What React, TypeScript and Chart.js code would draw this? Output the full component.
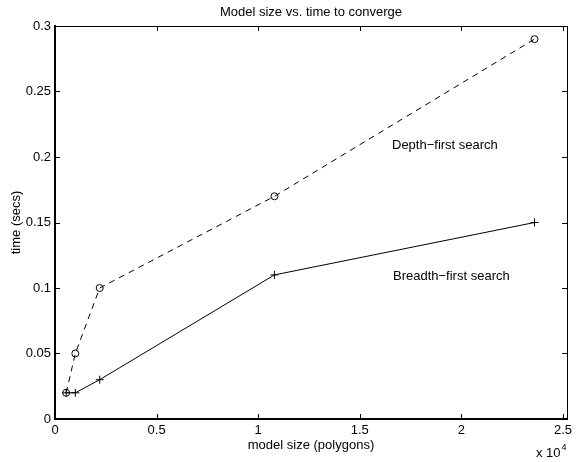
import React, { useEffect, useRef } from "react";
import { Chart, registerables } from "chart.js";

Chart.register(...registerables);

const modelSizes = [550, 1000, 2200, 10800, 23600];
const depthFirstTimes = [0.02, 0.05, 0.1, 0.17, 0.29];
const breadthFirstTimes = [0.02, 0.02, 0.03, 0.11, 0.15];
const xTickValues = [0, 5000, 10000, 15000, 20000, 25000];
const yTickValues = [0, 0.05, 0.1, 0.15, 0.2, 0.25, 0.3];
const titleText = "Model size vs. time to converge";
const xLabel = "model size (polygons)";
const yLabel = "time (secs)";
const depthLabel = "Depth\u2212first search";
const breadthLabel = "Breadth\u2212first search";

const FONT = "'Liberation Sans', Arial, Helvetica, sans-serif";
const W = 576;
const H = 462;
const PLOT = { left: 55, right: 567, top: 26, bottom: 419 };

const fmt = (v: number) => String(Number(v.toFixed(4)));

const framePlugin = {
  id: "frame",
  afterDatasetsDraw(chart: any) {
    const ctx: CanvasRenderingContext2D = chart.ctx;
    const xs = chart.scales.x;
    const ys = chart.scales.y;
    const L = PLOT.left;
    const R = PLOT.right;
    const T = PLOT.top;
    const B = PLOT.bottom;
    ctx.save();
    ctx.fillStyle = "rgb(0,0,0)";
    ctx.fillRect(L - 1, T, 2, B - T + 1);
    ctx.fillRect(L - 1, B - 1, R - L + 2, 2);
    ctx.fillRect(L - 1, T, R - L + 2, 1);
    ctx.fillRect(R, T, 1, B - T);
    const tl = 5;
    xTickValues.forEach((v) => {
      let px = Math.round(xs.getPixelForValue(v));
      if (!isFinite(px)) px = Math.round(L + ((R - L) * v) / 25000);
      ctx.fillRect(px, B - tl, 1, tl);
      ctx.fillRect(px, T, 1, tl);
    });
    yTickValues.forEach((v) => {
      let py = Math.round(ys.getPixelForValue(v));
      if (!isFinite(py)) py = Math.round(B - ((B - T) * v) / 0.3);
      ctx.fillRect(L, py, tl, 1);
      ctx.fillRect(R - tl, py, tl, 1);
    });
    ctx.restore();
  },
  afterDraw(chart: any) {
    const ctx: CanvasRenderingContext2D = chart.ctx;
    const { left, right, top, bottom } = PLOT;
    ctx.save();
    ctx.fillStyle = "rgb(0,0,0)";
    ctx.font = `13px ${FONT}`;
    ctx.textAlign = "center";
    ctx.textBaseline = "middle";
    ctx.fillText(titleText, (left + right) / 2, 12);
    ctx.fillText(xLabel, (left + right) / 2, 445);
    ctx.save();
    ctx.translate(16, (top + bottom) / 2);
    ctx.rotate(-Math.PI / 2);
    ctx.fillText(yLabel, 0, 0);
    ctx.restore();
    ctx.textAlign = "left";
    ctx.fillText(depthLabel, 392, 145);
    ctx.fillText(breadthLabel, 393, 276);
    ctx.textBaseline = "alphabetic";
    ctx.fillText("x 10", 536, 457);
    const w = ctx.measureText("x 10").width;
    ctx.font = `9px ${FONT}`;
    ctx.fillText("4", 536 + w + 1, 450);
    ctx.restore();
  },
};

export default function App() {
  const ref = useRef<HTMLCanvasElement | null>(null);
  useEffect(() => {
    if (!ref.current) return;
    const depthData = modelSizes.map((x, i) => ({ x, y: depthFirstTimes[i] }));
    const breadthData = modelSizes.map((x, i) => ({ x, y: breadthFirstTimes[i] }));
    const chart = new Chart(ref.current, {
      type: "scatter",
      data: {
        datasets: [
          {
            label: "Depth-first search",
            data: depthData,
            showLine: true,
            borderColor: "#000",
            borderWidth: 1,
            borderDash: [6, 5],
            pointStyle: "circle",
            pointRadius: 3.5,
            pointBorderWidth: 1,
            pointBorderColor: "#000",
            pointBackgroundColor: "rgba(0,0,0,0)",
            backgroundColor: "rgba(0,0,0,0)",
          },
          {
            label: "Breadth-first search",
            data: breadthData,
            showLine: true,
            borderColor: "#000",
            borderWidth: 1,
            pointStyle: "cross",
            pointRadius: 4,
            pointBorderWidth: 1,
            pointBorderColor: "#000",
            backgroundColor: "rgba(0,0,0,0)",
          },
        ],
      },
      options: {
        responsive: false,
        animation: false,
        devicePixelRatio: 1,
        layout: { padding: { left: 0, top: PLOT.top, right: W - PLOT.right, bottom: 0 } },
        plugins: {
          legend: { display: false },
          title: { display: false },
          tooltip: { enabled: false },
        },
        scales: {
          x: {
            type: "linear",
            min: 0,
            max: 25000,
            grid: { display: false, drawTicks: false },
            border: { display: true, color: "#000", width: 2 },
            afterBuildTicks: (s: any) => {
              s.ticks = xTickValues.map((value) => ({ value }));
            },
            afterFit: (s: any) => {
              s.height = H - PLOT.bottom;
            },
            ticks: {
              color: "#000",
              padding: 4,
              maxRotation: 0,
              autoSkip: false,
              font: { family: FONT, size: 13 },
              callback: (v: any) => fmt(Number(v) / 10000),
            },
          },
          y: {
            type: "linear",
            min: 0,
            max: 0.3,
            grid: { display: false, drawTicks: false },
            border: { display: true, color: "#000", width: 2 },
            afterBuildTicks: (s: any) => {
              s.ticks = yTickValues.map((value) => ({ value }));
            },
            afterFit: (s: any) => {
              s.width = PLOT.left;
            },
            ticks: {
              color: "#000",
              padding: 4,
              autoSkip: false,
              font: { family: FONT, size: 13 },
              callback: (v: any) => fmt(Number(v)),
            },
          },
        },
      },
      plugins: [framePlugin],
    });
    return () => chart.destroy();
  }, []);
  return (
    <div style={{ position: "absolute", left: 0, top: 0, width: W, height: H, background: "#fff" }}>
      <canvas ref={ref} width={W} height={H} style={{ width: W, height: H, display: "block" }} />
    </div>
  );
}
